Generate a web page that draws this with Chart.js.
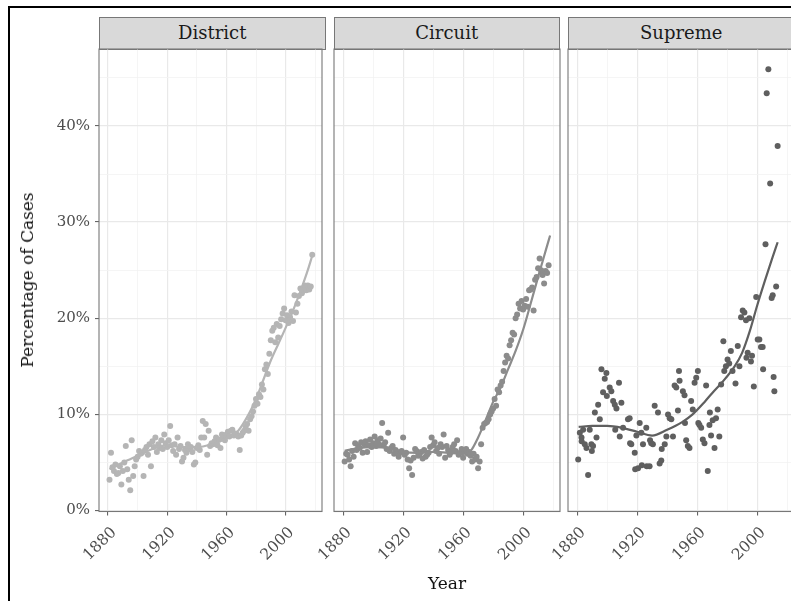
<!DOCTYPE html>
<html>
<head>
<meta charset="utf-8">
<script src="https://cdn.jsdelivr.net/npm/chart.js@4/dist/chart.umd.min.js"></script>
<style>
  html, body { margin: 0; padding: 0; background: #fff; overflow: hidden; }
  #stage { position: relative; width: 791px; height: 601px; overflow: hidden; font-family: "DejaVu Serif", serif; }
  .frame { position: absolute; left: 8px; top: 6px; width: 1000px; height: 1000px;
           border-left: 2px solid #000; border-top: 2px solid #000; }
  .strip { position: absolute; top: 17px; height: 32.5px; box-sizing: border-box; background: #d9d9d9;
           border: 1px solid #777; text-align: center; line-height: 30px; font-size: 18px; color: #1a1a1a; }
  .panel { position: absolute; top: 40px; }
  .ytitle { position: absolute; left: 27px; top: 280px; transform: translate(-50%, -50%) rotate(-90deg);
            white-space: nowrap; font-size: 17px; color: #111; }
  .xtitle { position: absolute; left: 447px; top: 583px; transform: translate(-50%, -50%);
            white-space: nowrap; font-size: 17px; color: #111; }
</style>
</head>
<body>
<div id="stage">
  <div class="frame"></div>
  <div class="strip" style="left:99px;width:226.5px;">District</div>
  <div class="strip" style="left:333.5px;width:226.5px;">Circuit</div>
  <div class="strip" style="left:568px;width:226.5px;">Supreme</div>
  <canvas id="cDistrict" class="panel" width="326" height="561" style="left:0px;"></canvas>
  <canvas id="cCircuit" class="panel" width="270" height="561" style="left:293.5px;"></canvas>
  <canvas id="cSupreme" class="panel" width="270" height="561" style="left:528px;"></canvas>
  <div class="ytitle">Percentage of Cases</div>
  <div class="xtitle">Year</div>
</div>
<script>
// ---- axis ticks ----
const xGridYears = [1880, 1900, 1920, 1940, 1960, 1980, 2000, 2020];
const xLabelYears = [1880, 1920, 1960, 2000];
const yGridValues = [0, 5, 10, 15, 20, 25, 30, 35, 40, 45];
const yLabelValues = [0, 10, 20, 30, 40];

// ---- District courts: share of cases per year (%) ----
const districtYears = [
  1881,1882,1883,1884,1885,1886,1887,1888,1889,1890,
  1891,1892,1893,1894,1895,1896,1897,1898,1899,1900,
  1901,1902,1903,1904,1905,1906,1907,1908,1909,1910,
  1911,1912,1913,1914,1915,1916,1917,1918,1919,1920,
  1921,1922,1923,1924,1925,1926,1927,1928,1929,1930,
  1931,1932,1933,1934,1935,1936,1937,1938,1939,1940,
  1941,1942,1943,1944,1945,1946,1947,1948,1949,1950,
  1951,1952,1953,1954,1955,1956,1957,1958,1959,1960,
  1961,1962,1963,1964,1965,1966,1967,1968,1969,1970,
  1971,1972,1973,1974,1975,1976,1977,1978,1979,1980,
  1981,1982,1983,1984,1985,1986,1987,1988,1989,1990,
  1991,1992,1993,1994,1995,1996,1997,1998,1999,2000,
  2001,2002,2003,2004,2005,2006,2007,2008,2009,2010,
  2011,2012,2013,2014,2015,2016,2017,2018
];
const districtShares = [
  3.2, 6.0, 4.5, 4.1, 4.8, 3.8, 3.9, 4.6, 2.7, 4.1,
  5.0, 6.7, 4.3, 3.2, 2.1, 7.3, 3.6, 4.6, 5.3, 5.6,
  6.2, 5.9, 6.0, 3.6, 6.3, 6.6, 5.8, 6.9, 4.6, 7.2,
  6.6, 7.6, 6.1, 6.9, 6.5, 7.3, 6.4, 7.9, 7.0, 6.6,
  7.3, 8.8, 6.8, 6.2, 6.9, 5.8, 7.6, 6.4, 6.7, 5.1,
  5.5, 6.3, 6.0, 6.9, 6.4, 6.6, 6.1, 4.8, 5.0, 6.5,
  6.8, 6.3, 7.6, 9.3, 7.6, 9.0, 5.8, 8.3, 6.7, 7.0,
  6.9, 7.2, 7.6, 6.8, 7.4, 6.5, 7.9, 7.6, 7.3, 7.9,
  8.2, 7.7, 8.3, 8.4, 7.8, 8.0, 7.9, 7.7, 6.3, 7.8,
  8.1, 8.3, 8.7, 9.0, 8.3, 9.5, 9.8, 10.3, 10.9, 11.6,
  11.1, 12.1, 11.8, 13.1, 12.6, 14.7, 15.2, 14.2, 16.3, 17.7,
  18.7, 19.0, 17.5, 19.4, 18.0, 19.2, 19.9, 20.5, 21.0, 19.8,
  20.3, 19.5, 20.1, 20.7, 19.7, 22.4, 20.6, 21.5, 22.3, 23.1,
  22.6, 22.9, 23.4, 22.9, 23.4, 23.0, 23.3, 26.6
];
const districtTrendYears = [1881, 1890, 1900, 1910, 1920, 1930, 1940, 1950, 1960, 1968, 1975, 1980, 1985, 1990, 1995, 2000, 2005, 2010, 2015, 2018];
const districtTrendShares = [4.3, 5.0, 5.7, 6.4, 6.8, 6.6, 6.6, 6.9, 7.5, 8.3, 10.0, 11.6, 13.6, 15.6, 17.3, 19.0, 20.8, 22.8, 25.0, 26.5];

// ---- Circuit courts ----
const circuitYears = [
  1881,1882,1883,1884,1885,1886,1887,1888,1889,1890,
  1891,1892,1893,1894,1895,1896,1897,1898,1899,1900,
  1901,1902,1903,1904,1905,1906,1907,1908,1909,1910,
  1911,1912,1913,1914,1915,1916,1917,1918,1919,1920,
  1921,1922,1923,1924,1925,1926,1927,1928,1929,1930,
  1931,1932,1933,1934,1935,1936,1937,1938,1939,1940,
  1941,1942,1943,1944,1945,1946,1947,1948,1949,1950,
  1951,1952,1953,1954,1955,1956,1957,1958,1959,1960,
  1961,1962,1963,1964,1965,1966,1967,1968,1969,1970,
  1971,1972,1973,1974,1975,1976,1977,1978,1979,1980,
  1981,1982,1983,1984,1985,1986,1987,1988,1989,1990,
  1991,1992,1993,1994,1995,1996,1997,1998,1999,2000,
  2001,2002,2003,2004,2005,2006,2007,2008,2009,2010,
  2011,2012,2013,2014,2015,2016,2017
];
const circuitShares = [
  5.1, 5.9, 5.8, 5.3, 4.6, 6.2, 5.6, 7.0, 6.3, 6.7,
  6.5, 7.1, 6.0, 6.9, 7.2, 6.1, 6.8, 7.4, 6.6, 7.0,
  7.7, 6.7, 7.3, 6.9, 7.5, 9.1, 6.8, 7.1, 6.4, 8.1,
  6.2, 6.5, 6.7, 5.9, 6.3, 6.1, 5.6, 6.0, 6.2, 7.6,
  5.8, 6.0, 5.3, 4.4, 5.2, 3.7, 5.5, 6.4, 6.2, 5.7,
  5.9, 6.1, 5.4, 6.3, 5.6, 5.8, 6.0, 6.6, 7.6, 6.8,
  7.1, 6.2, 6.5, 5.9, 6.9, 6.6, 7.9, 5.5, 6.7, 6.3,
  5.8, 6.1, 6.6, 6.9, 6.2, 7.3, 5.8, 6.0, 6.4, 5.5,
  6.2, 6.4, 5.9, 6.1, 5.7, 5.1, 5.9, 5.3, 5.6, 4.4,
  5.1, 6.9, 8.6, 9.0, 9.1, 9.2, 9.5, 10.0, 10.3, 10.6,
  11.6, 10.9, 12.6, 12.3, 13.0, 13.4, 14.5, 15.4, 16.1, 15.8,
  17.2, 17.7, 18.5, 18.3, 20.0, 20.4, 21.5, 21.0, 21.8, 20.9,
  21.3, 22.0, 21.2, 22.9, 23.0, 23.2, 20.8, 24.0, 24.3, 25.2,
  26.2, 25.0, 24.5, 23.6, 24.9, 24.7, 25.5
];
const circuitTrendYears = [1881, 1890, 1900, 1910, 1920, 1930, 1940, 1950, 1960, 1965, 1970, 1975, 1980, 1985, 1990, 1995, 2000, 2005, 2010, 2015, 2018];
const circuitTrendShares = [6.2, 6.5, 6.6, 6.5, 6.1, 6.0, 6.1, 6.0, 5.9, 6.2, 7.6, 9.4, 11.3, 12.8, 14.7, 16.6, 18.8, 21.5, 24.3, 27.0, 28.6];

// ---- Supreme Court ----
const supremeYears = [
  1880.7, 1881.8, 1882.9, 1883.0, 1884.0, 1885.1, 1886.2, 1887.3, 1888.4, 1889.5,
  1889.8, 1890.6, 1891.8, 1892.9, 1894.0, 1895.1, 1896.2, 1897.3, 1898.4, 1899.5,
  1899.8, 1901.7, 1902.8, 1904.0, 1905.1, 1905.4, 1906.2, 1907.9, 1908.4, 1909.5,
  1910.6, 1913.9, 1915.0, 1915.3, 1916.1, 1918.4, 1918.7, 1919.5, 1920.6, 1921.7,
  1922.8, 1923.1, 1923.9, 1926.1, 1926.4, 1928.3, 1928.6, 1929.4, 1930.5, 1931.7,
  1933.9, 1935.0, 1936.1, 1936.4, 1938.4, 1939.5, 1940.6, 1941.7, 1942.8, 1943.9,
  1945.0, 1946.1, 1947.2, 1947.9, 1948.3, 1950.5, 1951.6, 1951.9, 1952.7, 1953.8,
  1954.9, 1956.0, 1957.1, 1958.3, 1959.4, 1960.5, 1960.8, 1961.6, 1962.7, 1963.8,
  1964.9, 1966.0, 1967.1, 1968.2, 1968.5, 1969.3, 1970.4, 1971.6, 1972.6, 1973.7,
  1974.8, 1976.0, 1977.5, 1978.1, 1979.2, 1980.3, 1981.4, 1982.5, 1983.6, 1985.6,
  1987.1, 1988.2, 1989.3, 1990.4, 1991.5, 1992.6, 1992.9, 1993.7, 1994.8, 1995.9,
  1996.6, 1997.8, 1999.4, 2000.4, 2001.5, 2002.6, 2003.7, 2004.0, 2005.6, 2006.4,
  2007.5, 2008.7, 2009.7, 2010.4, 2011.0, 2011.5, 2012.7, 2013.7
];
const supremeShares = [
  5.3, 8.1, 7.6, 7.2, 8.4, 6.9, 6.5, 3.7, 8.4, 6.9,
  6.2, 6.7, 10.2, 7.6, 11.0, 9.5, 14.7, 12.3, 13.7, 14.3,
  11.9, 12.8, 12.4, 11.4, 11.0, 8.4, 10.6, 13.3, 7.7, 11.2,
  8.6, 9.5, 9.6, 7.0, 6.9, 6.0, 4.3, 7.8, 4.4, 9.1,
  8.1, 4.7, 6.9, 8.6, 4.6, 4.6, 7.3, 7.0, 6.9, 10.9,
  10.2, 4.9, 5.2, 6.4, 6.9, 7.7, 10.0, 9.6, 9.5, 7.7,
  13.0, 12.8, 10.4, 14.5, 13.5, 12.4, 12.0, 9.1, 7.3, 6.7,
  6.5, 11.4, 10.5, 13.3, 13.8, 14.5, 9.1, 8.9, 8.6, 7.4,
  7.0, 13.0, 4.1, 8.9, 10.2, 7.8, 9.4, 6.5, 9.6, 10.5,
  7.7, 13.1, 17.6, 14.5, 15.0, 15.7, 15.3, 16.6, 14.5, 13.2,
  17.1, 15.0, 20.1, 20.8, 20.6, 19.8, 15.9, 16.4, 20.0, 15.5,
  16.1, 12.9, 22.2, 17.8, 17.8, 17.0, 17.0, 14.7, 27.7, 43.4,
  45.9, 34.0, 22.1, 22.4, 13.9, 12.4, 23.3, 37.9
];
const supremeTrendYears = [1881, 1890, 1900, 1910, 1920, 1930, 1940, 1950, 1957, 1965, 1970, 1977, 1985, 1990, 1995, 2000, 2005, 2010, 2013.7];
const supremeTrendShares = [8.7, 8.8, 8.8, 8.6, 8.2, 7.8, 8.4, 9.2, 10.0, 11.3, 12.2, 13.4, 15.0, 16.4, 18.6, 21.3, 23.8, 26.2, 27.9];

// ---- drawing ----
Chart.defaults.font.family = '"DejaVu Serif", serif';
const X_MIN = 1873.9, X_MAX = 2024.6;
const Y_MIN = -0.1, Y_MAX = 48.0;
const AXIS_TEXT = '#4d4d4d';
const TICK_MARK = '#555555';

const panelFrame = {
  id: 'panelFrame',
  afterDraw(chart) {
    const a = chart.chartArea, ctx = chart.ctx;
    ctx.save();
    ctx.strokeStyle = '#777777';
    ctx.lineWidth = 1.1;
    ctx.strokeRect(a.left, a.top, a.right - a.left, a.bottom - a.top);
    ctx.restore();
  }
};

function toPoints(xs, ys) { return xs.map((x, i) => ({ x: x, y: ys[i] })); }

function drawPanel(id, years, shares, trendYears, trendShares, colour, withYAxis, padLeft, padRight) {
  new Chart(document.getElementById(id), {
    type: 'scatter',
    data: {
      datasets: [
        { data: toPoints(trendYears, trendShares), showLine: true, pointRadius: 0,
          borderColor: colour, borderWidth: 2.2, cubicInterpolationMode: 'monotone', fill: false },
        { data: toPoints(years, shares), pointRadius: 3, pointBorderWidth: 0,
          backgroundColor: colour, borderColor: colour, showLine: false }
      ]
    },
    options: {
      responsive: false, animation: false, events: [],
      layout: { padding: { left: padLeft, right: padRight, top: 9, bottom: 0 } },
      plugins: { legend: { display: false }, tooltip: { enabled: false }, title: { display: false } },
      scales: {
        x: {
          type: 'linear', min: X_MIN, max: X_MAX,
          afterBuildTicks: s => { s.ticks = xGridYears.map(v => ({ value: v })); },
          afterFit: s => { s.height = 89.5; s.paddingLeft = 0; s.paddingRight = 0; },
          border: { display: false },
          grid: {
            color: c => (xLabelYears.includes(c.tick && c.tick.value) ? '#e9e9e9' : '#f2f2f2'),
            lineWidth: c => (xLabelYears.includes(c.tick && c.tick.value) ? 1.2 : 0.8),
            tickLength: 4,
            tickColor: c => (xLabelYears.includes(c.tick && c.tick.value) ? TICK_MARK : 'rgba(0,0,0,0)'),
            tickWidth: 1
          },
          ticks: {
            autoSkip: false, minRotation: 45, maxRotation: 45,
            padding: 8, labelOffset: 6,
            color: AXIS_TEXT, font: { size: 15.5 },
            callback: v => (xLabelYears.includes(v) ? String(v) : '')
          }
        },
        y: {
          type: 'linear', min: Y_MIN, max: Y_MAX,
          afterBuildTicks: s => { s.ticks = yGridValues.map(v => ({ value: v })); },
          afterFit: s => { s.width = withYAxis ? 99 : 0; s.paddingTop = 0; s.paddingBottom = 0; },
          border: { display: false },
          grid: {
            color: c => (yLabelValues.includes(c.tick && c.tick.value) ? '#e9e9e9' : '#f2f2f2'),
            lineWidth: c => (yLabelValues.includes(c.tick && c.tick.value) ? 1.2 : 0.8),
            drawTicks: withYAxis, tickLength: 4,
            tickColor: c => (yLabelValues.includes(c.tick && c.tick.value) ? TICK_MARK : 'rgba(0,0,0,0)'),
            tickWidth: 1
          },
          ticks: {
            display: withYAxis, padding: 5,
            color: AXIS_TEXT, font: { size: 15 },
            callback: v => (yLabelValues.includes(v) ? v + '%' : '')
          }
        }
      }
    },
    plugins: [panelFrame]
  });
}

drawPanel('cDistrict', districtYears, districtShares, districtTrendYears, districtTrendShares, '#b5b5b5', true, 0, 0.5);
drawPanel('cCircuit', circuitYears, circuitShares, circuitTrendYears, circuitTrendShares, '#8c8c8c', false, 40, 3.5);
drawPanel('cSupreme', supremeYears, supremeShares, supremeTrendYears, supremeTrendShares, '#5f5f5f', false, 40, 3.5);
</script>
</body>
</html>
